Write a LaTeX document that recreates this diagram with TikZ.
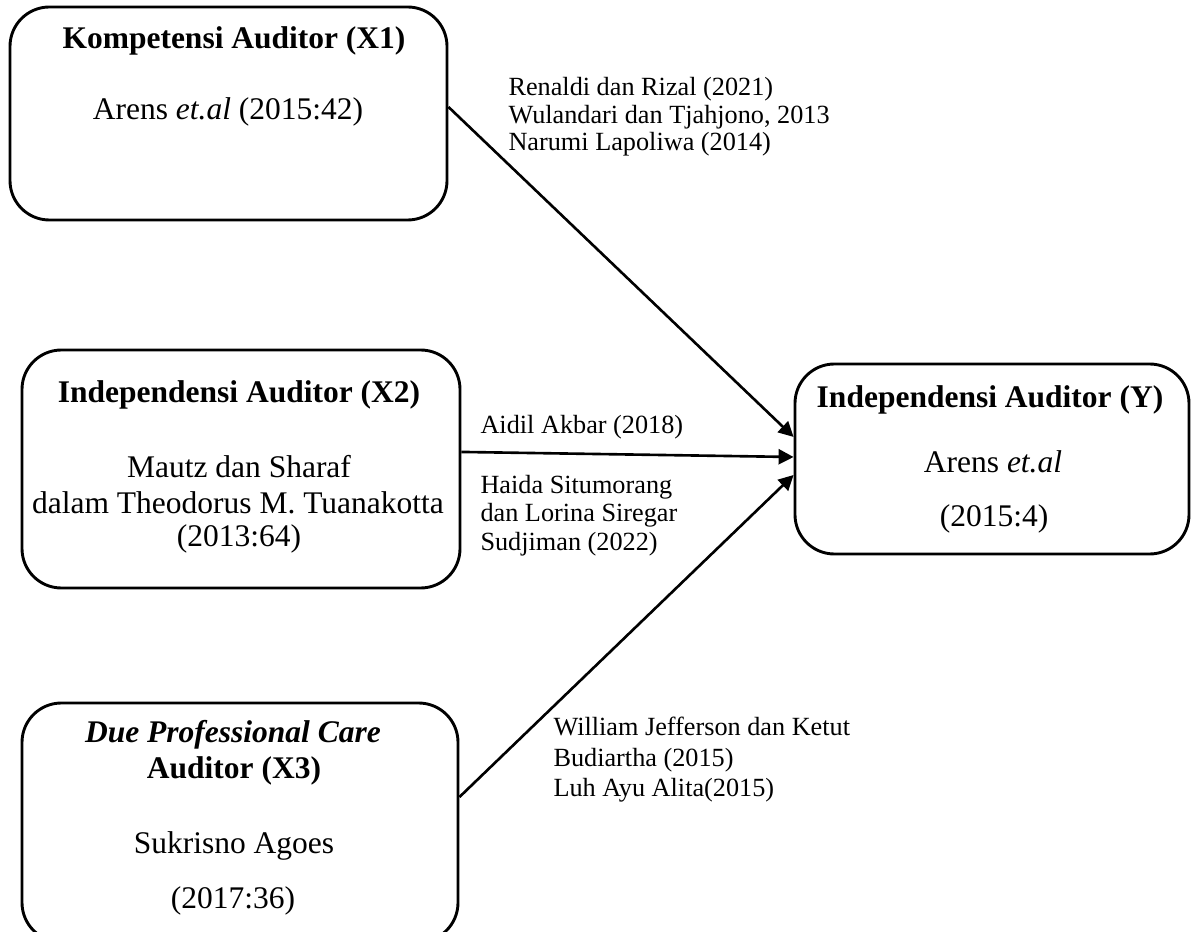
\documentclass[tikz,border=0pt]{standalone}
\usepackage{fontspec}
\setmainfont{Liberation Serif}
\usetikzlibrary{arrows.meta}
\def\u{0.381pt}
\begin{document}
\begin{tikzpicture}[x=0.381pt, y=-0.381pt,
  varbox/.style={draw, line width=1.1pt, rounded corners=15pt, inner sep=0pt},
  ttl/.style={anchor=base, inner sep=0pt, font=\fontsize{12}{14}\selectfont\bfseries},
  txt/.style={anchor=base, inner sep=0pt, font=\fontsize{12}{14}\selectfont},
  lbl/.style={anchor=base west, inner sep=0pt, font=\fontsize{10}{12}\selectfont},
  conn/.style={line width=1pt, -{Triangle[length=5.7pt, width=5.7pt]}}]
\useasboundingbox (0,0) rectangle (1197,932);
\fill[white] (0,0) rectangle (1197,932);
% boxes
\node[varbox, minimum width={437*\u}, minimum height={213*\u}] (x1) at (228.5,113.5) {};
\node[varbox, minimum width={438*\u}, minimum height={238*\u}] (x2) at (241,469) {};
\node[varbox, minimum width={436*\u}, minimum height={239*\u}] (x3) at (240,822.5) {};
\node[varbox, minimum width={394*\u}, minimum height={190*\u}] (y) at (992,459) {};
% X1 texts
\node[ttl] (x1t) at (234,49) {Kompetensi Auditor (X1)};
\node[txt] (x1s) at (228,120) {Arens \textit{et.al} (2015:42)};
% X2 texts
\node[ttl] (x2t) at (239,403) {Independensi Auditor (X2)};
\node[txt] (x2a) at (239,478) {Mautz dan Sharaf};
\node[txt] (x2b) at (238,514) {dalam Theodorus M. Tuanakotta};
\node[txt] (x2c) at (239,546) {(2013:64)};
% X3 texts
\node[ttl] (x3t) at (233,742) {\textit{Due Professional Care}};
\node[ttl] (x3u) at (234,778) {Auditor (X3)};
\node[txt] (x3a) at (234,853) {Sukrisno Agoes};
\node[txt] (x3b) at (233,908) {(2017:36)};
% Y texts
\node[ttl] (yt) at (990,408) {Independensi Auditor (Y)};
\node[txt] (ya) at (993,473) {Arens \textit{et.al}};
\node[txt] (yb) at (994,526) {(2015:4)};
% connector labels
\node[lbl] (l1a) at (508,96) {Renaldi dan Rizal (2021)};
\node[lbl] (l1b) at (508,123.5) {Wulandari dan Tjahjono, 2013};
\node[lbl] (l1c) at (508,151) {Narumi Lapoliwa (2014)};
\node[lbl] (l2a) at (480,434) {Aidil Akbar (2018)};
\node[lbl] (l2b) at (480,493) {Haida Situmorang};
\node[lbl] (l2c) at (480,521.5) {dan Lorina Siregar};
\node[lbl] (l2d) at (480,550) {Sudjiman (2022)};
\node[lbl] (l3a) at (553,735) {William Jefferson dan Ketut};
\node[lbl] (l3b) at (553,766) {Budiartha (2015)};
\node[lbl] (l3c) at (553,796) {Luh Ayu Alita(2015)};
% connectors
\draw[conn] ([yshift=2.5pt]x1.east) -- ([yshift=8.4pt]y.west);
\draw[conn] ([yshift=6.5pt]x2.east) -- ([yshift=0.76pt]y.west);
\draw[conn] ([yshift=9.7pt]x3.east) -- ([yshift=-6.1pt]y.west);
\end{tikzpicture}
\end{document}
